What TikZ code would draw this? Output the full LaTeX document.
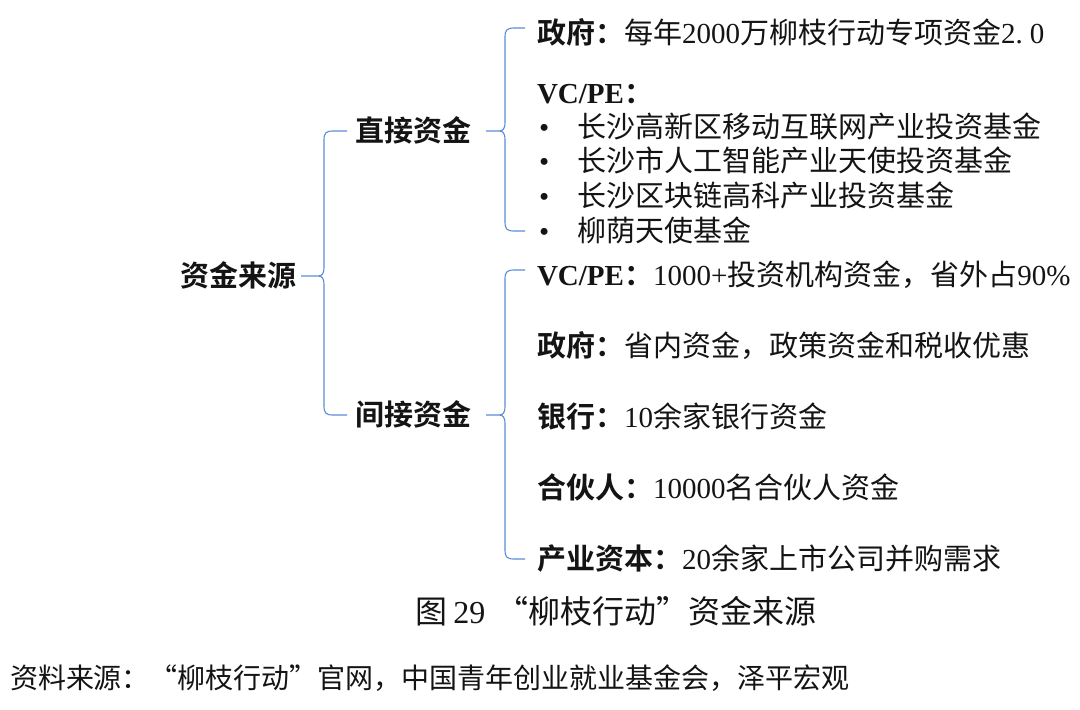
\documentclass[tikz,border=0pt]{standalone}
\usepackage{fontspec}
\setmainfont{Noto Sans CJK SC}[BoldFont={Noto Sans CJK SC Bold}]
\newfontfamily\lat{Liberation Serif}
\usetikzlibrary{calc}
\definecolor{bracecol}{RGB}{92,140,218}
\definecolor{txt}{RGB}{20,20,20}
\tikzset{
  txtbase/.style={inner sep=0pt, outer sep=0pt, text=txt, text height=25pt, text depth=4pt},
  head/.style={txtbase, font=\fontsize{29}{34}\selectfont\bfseries},
  item/.style={txtbase, anchor=west, font=\fontsize{29}{34}\selectfont},
  capt/.style={txtbase, anchor=west, text height=28pt, text depth=4pt, font=\fontsize{32}{37}\selectfont},
  srcnote/.style={txtbase, anchor=west, text height=24pt, text depth=4pt, font=\fontsize{28}{33}\selectfont},
  brc/.style={draw=bracecol, line width=1.1pt, line join=round}
}
\newcommand\brc[6]{%
\draw[brc] let \p1=(#1.east), \p2=(#2), \p3=(#3) in
  (\x1+#5pt,\y1) -- (#4pt-6pt,\y1)
  (\x2-#6pt,\y2) -- (#4pt+9pt,\y2) .. controls (#4pt+2pt,\y2) and (#4pt,\y2-2pt) .. (#4pt,\y2-9pt)
  -- (#4pt,\y1+9pt) .. controls (#4pt,\y1+2pt) and (#4pt-2pt,\y1) .. (#4pt-6pt,\y1)
  .. controls (#4pt-2pt,\y1) and (#4pt,\y1-2pt) .. (#4pt,\y1-9pt)
  -- (#4pt,\y3+9pt) .. controls (#4pt,\y3+2pt) and (#4pt+2pt,\y3) .. (#4pt+9pt,\y3) -- (\x3-#6pt,\y3);}
\newcommand\bul{\makebox[40pt][l]{\hspace{2pt}{\lat •}}}
\begin{document}
\begin{tikzpicture}[x=1pt,y=-1pt]
\useasboundingbox (0,0) rectangle (1080,710);
\fill[white] (0,0) rectangle (1080,710);
% level 0 and 1
\node[head] (root) at (238,276) {资金来源};
\node[head] (d) at (413,131) {直接资金};
\node[head] (i) at (413,415) {间接资金};
% direct items
\node[item] (g1) at (537,33) {\textbf{政府：}每年{\lat 2000}万柳枝行动专项资金{\lat 2.\hspace{0.25em}0}};
\node[item] (v1) at (537,93) {\textbf{{\lat VC/PE}：}};
\node[item] (b1) at (537,127) {\bul 长沙高新区移动互联网产业投资基金};
\node[item] (b2) at (537,161) {\bul 长沙市人工智能产业天使投资基金};
\node[item] (b3) at (537,196) {\bul 长沙区块链高科产业投资基金};
\node[item] (b4) at (537,231) {\bul 柳荫天使基金};
% indirect items
\node[item] (v2) at (537,275) {\textbf{{\lat VC/PE}：}{\lat 1000+}投资机构资金，省外占{\lat 90\%}};
\node[item] (g2) at (537,346) {\textbf{政府：}省内资金，政策资金和税收优惠};
\node[item] (bk) at (537,417) {\textbf{银行：}{\lat 10}余家银行资金};
\node[item] (hh) at (537,488) {\textbf{合伙人：}{\lat 10000}名合伙人资金};
\node[item] (cy) at (537,559) {\textbf{产业资本：}{\lat 20}余家上市公司并购需求};
% caption and source
\node[capt] (cap) at (415,611) {图\hspace{0.2em}{\lat 29}\hspace{0.35em}“柳枝行动”资金来源};
\node[srcnote] (src) at (10,678) {资料来源：“柳枝行动”官网，中国青年创业就业基金会，泽平宏观};
% arm coordinates
\coordinate (rt) at (d.west);
\coordinate (rb) at (i.west);
\coordinate (dt) at ($(g1.west)+(0,-5)$);
\coordinate (db) at (b4.west);
\coordinate (it) at ($(v2.west)+(0,-5)$);
\coordinate (ib) at (cy.west);
% braces
\brc{root}{rt}{rb}{324}{5}{8}
\brc{d}{dt}{db}{505}{15}{12}
\brc{i}{it}{ib}{505}{15}{12}
\end{tikzpicture}
\end{document}
